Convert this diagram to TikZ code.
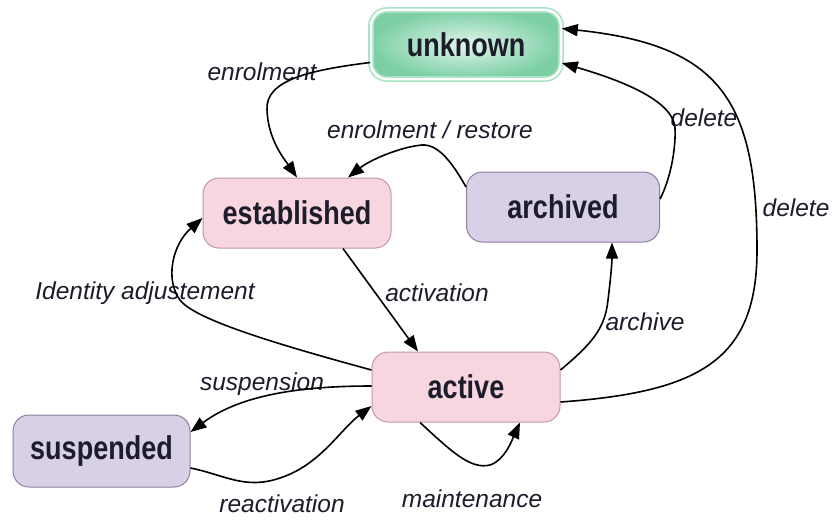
\documentclass[tikz,border=0pt]{standalone}
\usepackage{fontspec}
\usepackage{graphicx}
\setmainfont{Liberation Sans}
\usetikzlibrary{arrows.meta}
\definecolor{txt}{HTML}{1C1C2A}
\definecolor{pinkfill}{HTML}{F8D6E0}
\definecolor{pinkdraw}{HTML}{C497A4}
\definecolor{purpfill}{HTML}{D8D0E6}
\definecolor{purpdraw}{HTML}{8E7E9E}
\definecolor{greenout}{HTML}{7CCFA5}
\definecolor{greenin}{HTML}{E2F6EC}
\definecolor{greendraw}{HTML}{A6E3C3}
\newcommand{\stx}[1]{\scalebox{1}[1.22]{#1}}
\tikzset{
  statebox/.style={rounded corners=16pt, line width=1pt, inner sep=0pt,
    font=\fontsize{27}{30}\selectfont\bfseries, text=txt},
  pinkbox/.style={statebox, fill=pinkfill, draw=pinkdraw},
  purpbox/.style={statebox, fill=purpfill, draw=purpdraw},
  greenbox/.style={statebox, draw=greendraw, double=white, double distance=2.5pt,
    line width=1.6pt, inner color=greenin, outer color=greenout},
  lbl/.style={font=\fontsize{24.5}{28}\selectfont\itshape, text=txt, inner sep=0pt},
  arr/.style={line width=1.6pt, draw=black, -{Triangle[length=16pt,width=12pt]}},
}
\begin{document}
\begin{tikzpicture}[x=1pt,y=-1pt]
\useasboundingbox (0,0) rectangle (832,519);
\fill[white] (0,0) rectangle (832,519);
% nodes
\node[greenbox, minimum width=190pt, minimum height=69pt] (unknown) at (466,44.5) {\stx{unknown}};
\node[pinkbox, minimum width=188pt, minimum height=70pt] (established) at (297,213) {\stx{established}};
\node[purpbox, minimum width=193pt, minimum height=70pt] (archived) at (563,207) {\stx{archived}};
\node[pinkbox, minimum width=188pt, minimum height=70pt] (active) at (466,387) {\stx{active}};
\node[purpbox, minimum width=177pt, minimum height=72pt] (suspended) at (101.5,451) {\stx{suspended}};
% labels
\node[lbl] (l1) at (262,72) {enrolment};
\node[lbl] (l2) at (430,130) {enrolment / restore};
\node[lbl] (l3) at (704,118) {delete};
\node[lbl] (l4) at (796,208) {delete};
\node[lbl] (l5) at (437,293) {activation};
\node[lbl] (l6) at (645,322) {archive};
\node[lbl] (l7) at (145,293) {Identity adjustement};
\node[lbl] (l8) at (262,384) {suspension};
\node[lbl] (l9) at (282,504) {reactivation};
\node[lbl] (l10) at (472,499) {maintenance};
% connectors
\draw[arr] ([yshift=-18pt]unknown.west) .. controls (310,70) and (265,80) .. (267,110)
  .. controls (268,140) and (285,160) .. (established.north);
\draw[arr] ([yshift=20pt]archived.west) .. controls (452,162) and (438,144) .. (422,145)
  .. controls (400,147) and (370,160) .. ([xshift=51pt]established.north);
\draw[arr] ([yshift=8pt]archived.east) .. controls (670,180) and (676,150) .. (675,128)
  .. controls (673,100) and (620,80) .. ([yshift=-18.5pt]unknown.east);
\draw[arr] ([yshift=-15pt]active.east) .. controls (700,392) and (757,360) .. (757,250)
  .. controls (757,100) and (720,45) .. ([yshift=16pt]unknown.east);
\draw[arr] ([xshift=46pt]established.south) -- ([xshift=-48pt]active.north);
\draw[arr] ([yshift=17pt]active.east) .. controls (590,345) and (605,330) .. (608,300)
  .. controls (611,275) and (612,262) .. ([xshift=49pt]archived.south);
\draw[arr] ([yshift=17pt]active.west) .. controls (280,345) and (195,320) .. (180,300)
  .. controls (165,280) and (172,245) .. ([yshift=-5pt]established.west);
\draw[arr] ([yshift=1pt]active.west) .. controls (300,386) and (240,395) .. ([yshift=19pt]suspended.east);
\draw[arr] ([yshift=-17pt]suspended.east) .. controls (225,475) and (245,490) .. (280,478)
  .. controls (320,465) and (340,430) .. ([yshift=-19pt]active.west);
\draw[arr] ([xshift=-46pt]active.south) .. controls (450,450) and (470,470) .. (490,465)
  .. controls (505,460) and (512,440) .. ([xshift=54pt]active.south);
\end{tikzpicture}
\end{document}
